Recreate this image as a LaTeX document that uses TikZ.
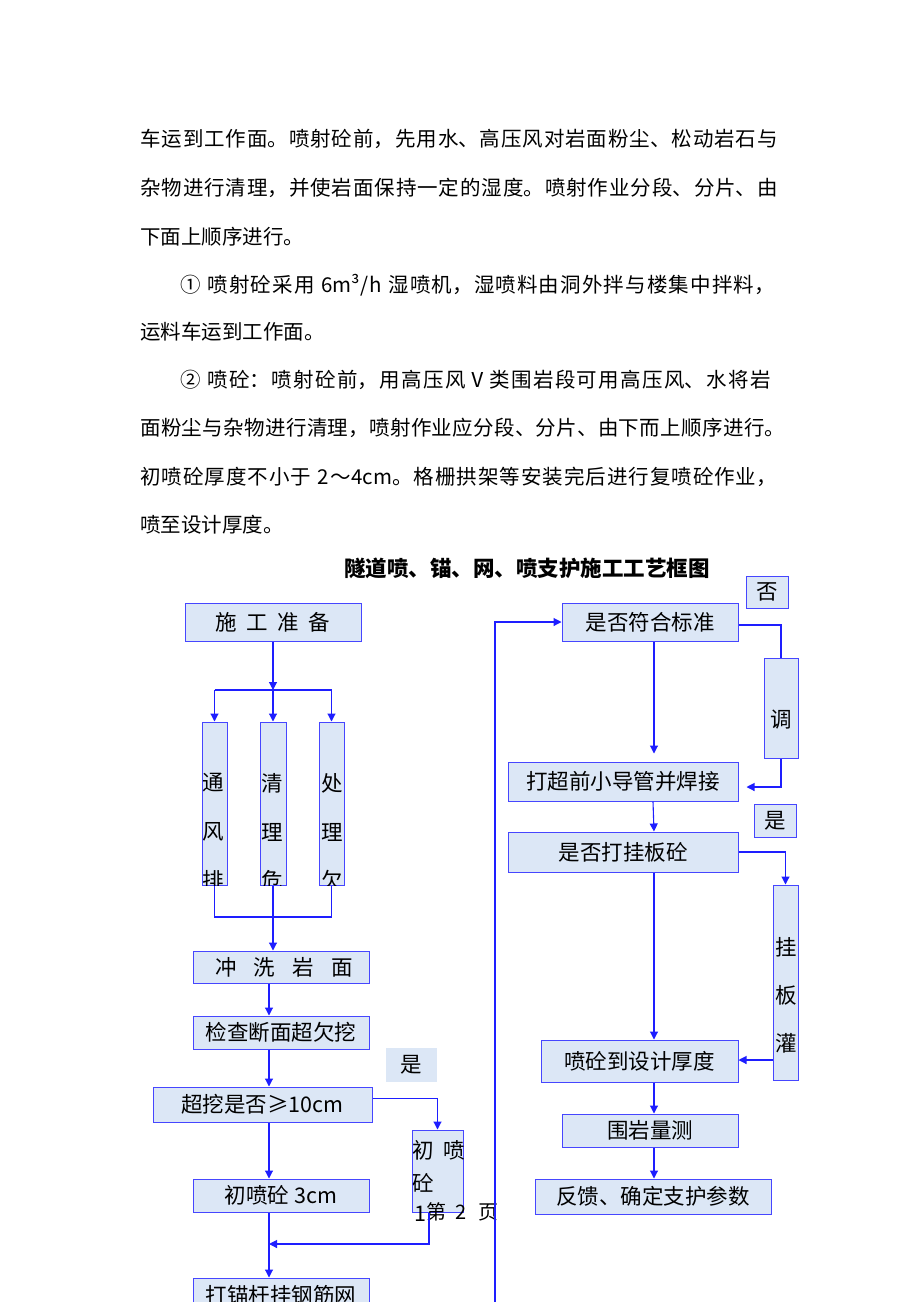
\documentclass[tikz,border=0pt]{standalone}
\usepackage{fontspec}
\setmainfont{Noto Sans CJK SC}
\usetikzlibrary{arrows.meta,calc}
\XeTeXlinebreaklocale "zh"
\XeTeXlinebreakskip=0pt plus 3pt
\definecolor{bxc}{RGB}{70,70,255}
\definecolor{flc}{RGB}{220,231,246}
\definecolor{lnc}{RGB}{30,30,255}
\newcommand\parafont{\fontsize{20.5}{24}\selectfont}
\newcommand\boxfont{\fontsize{21.5}{24}\selectfont}
\begin{document}
\begin{tikzpicture}[x=1pt,y=-1pt,
  fbox/.style={draw=bxc,fill=flc,line width=1pt,inner sep=0pt,font=\boxfont,text=black},
  lbl/.style={fill=flc,inner sep=0pt,font=\boxfont},
  vch/.style={inner sep=0pt,font=\boxfont},
  para/.style={anchor=west,inner sep=0pt,font=\parafont},
  full/.style={para,text width=650pt},
  fullin/.style={para,text width=610pt},
  conn/.style={draw=lnc,line width=1.1pt},
  flow/.style={conn,-{Triangle[length=8pt,width=8pt]}}]
\useasboundingbox (0,0) rectangle (920,1302);
\fill[white] (0,0) rectangle (920,1302);

% ---- paragraph text ----
\node[full] (t1) at (140,139) {\noindent\parfillskip=0pt 车运到工作面。喷射砼前，先用水、高压风对岩面粉尘、松动岩石与\par};
\node[full] (t2) at (140,188) {\noindent\parfillskip=0pt 杂物进行清理，并使岩面保持一定的湿度。喷射作业分段、分片、由\par};
\node[para] (t3) at (140,237) {下面上顺序进行。};
\node[fullin] (t4) at (180,285) {\noindent\parfillskip=0pt ① 喷射砼采用 6m³/h 湿喷机，湿喷料由洞外拌与楼集中拌料，\par};
\node[para] (t5) at (140,332) {运料车运到工作面。};
\node[fullin] (t6) at (180,380) {\noindent\parfillskip=0pt ② 喷砼：喷射砼前，用高压风Ⅴ类围岩段可用高压风、水将岩\par};
\node[full] (t7) at (140,428) {\noindent\parfillskip=0pt 面粉尘与杂物进行清理，喷射作业应分段、分片、由下而上顺序进行。\par};
\node[full] (t8) at (140,477) {\noindent\parfillskip=0pt 初喷砼厚度不小于 2～4cm。格栅拱架等安装完后进行复喷砼作业，\par};
\node[para] (t9) at (140,525) {喷至设计厚度。};

\node[font=\fontsize{21.5}{24}\selectfont\bfseries,inner sep=0pt] (title) at (527,568) {隧道喷、锚、网、喷支护施工工艺框图};

% ---- left column ----
\coordinate (lc) at (269,0);
\node[fbox,minimum width=176pt,minimum height=38pt] (prep) at (273,622) {施\hspace{0.45em}工\hspace{0.45em}准\hspace{0.45em}备};
\node[fbox,minimum width=25pt,minimum height=163pt] (tf) at (214.5,803.5) {};
\node[fbox,minimum width=26pt,minimum height=163pt] (ql) at (273,803.5) {};
\node[fbox,minimum width=25pt,minimum height=163pt] (cq) at (331.5,803.5) {};
\begin{scope}
\clip (200,722) rectangle (350,885);
\node[vch] (tf1) at (213,783) {通};
\node[vch] (tf2) at (213,832) {风};
\node[vch] (tf3) at (213,880) {排};
\node[vch] (ql1) at (272,783) {清};
\node[vch] (ql2) at (272,832) {理};
\node[vch] (ql3) at (272,880) {危};
\node[vch] (cq1) at (332,783) {处};
\node[vch] (cq2) at (332,832) {理};
\node[vch] (cq3) at (332,880) {欠};
\end{scope}
\coordinate (split) at (273,690);
\coordinate (merge) at (273,917);
\draw[flow] (prep.south) -- (split);
\draw[conn] (tf.north |- split) -- (cq.north |- split);
\draw[flow] (tf.north |- split) -- (tf.north);
\draw[flow] (split) -- (ql.north);
\draw[flow] (cq.north |- split) -- (cq.north);

\node[fbox,minimum width=176pt,minimum height=32pt] (wash) at (281,967) {\hspace{6pt}冲\hspace{0.8em}洗\hspace{0.8em}岩\hspace{0.8em}面};
\draw[conn] (tf.south) -- (tf.south |- merge) -- (cq.south |- merge) -- (cq.south);
\draw[flow] (ql.south) -- (ql.south |- wash.north);

\node[fbox,minimum width=176pt,minimum height=33pt] (check) at (281,1032.5) {检查断面超欠挖};
\node[fbox,minimum width=219pt,minimum height=35pt] (over) at (262.5,1104.5) {超挖是否≥10cm};
\node[lbl,minimum width=51pt,minimum height=34pt] (yes1) at (411.5,1065) {是};
\node[fbox,minimum width=51pt,minimum height=82pt] (init) at (437.5,1171) {};
\begin{scope}
\clip (412,1130) rectangle (465,1212);
\node[vch] (in1) at (423,1150) {初};
\node[vch] (in2) at (454,1150) {喷};
\node[vch] (in3) at (423,1183) {砼};
\end{scope}
\begin{scope}
\clip (412,1200) rectangle (426,1220);
\node[vch,anchor=west] (in4) at (414,1214) {10cm};
\end{scope}
\node[fbox,minimum width=176pt,minimum height=33pt] (s3) at (281,1195.5) {初喷砼 3cm};
\node[fbox,minimum width=176pt,minimum height=34pt] (anc) at (281,1295) {打锚杆挂钢筋网};
\node[inner sep=0pt,font=\fontsize{20}{24}\selectfont,anchor=west] (page) at (426,1212) {第\hspace{0.45em}2\hspace{0.6em}页};

\coordinate (j) at (269,1244);
\coordinate (overout) at ([yshift=6pt]over.east);
\coordinate (initout) at ([xshift=-8.5pt]init.south);
\draw[flow] (wash.south -| lc) -- (check.north -| lc);
\draw[flow] (check.south -| lc) -- (over.north -| lc);
\draw[flow] (overout) -- (overout -| init.north) -- (init.north);
\draw[flow] (over.south -| lc) -- (s3.north -| lc);
\draw[flow] (s3.south -| lc) -- (anc.north -| lc);
\draw[flow] (initout) -- (initout |- j) -- (j);

% ---- right column ----
\coordinate (rc) at (654,0);
\coordinate (loopbot) at (495,1310);
\node[fbox,minimum width=176pt,minimum height=38pt] (std) at (650,622) {是否符合标准};
\node[fbox,minimum width=42pt,minimum height=32pt] (no) at (767,592) {否};
\node[fbox,minimum width=34pt,minimum height=100pt] (adj) at (781,708) {};
\node[vch] (adjt) at (781,720) {调};
\node[fbox,minimum width=230pt,minimum height=39pt] (pipe) at (623,781.5) {打超前小导管并焊接};
\node[fbox,minimum width=42pt,minimum height=33pt] (yes2) at (775,820.5) {是};
\node[fbox,minimum width=230pt,minimum height=40pt] (hang) at (623,852) {是否打挂板砼};
\node[fbox,minimum width=25pt,minimum height=195pt] (gb) at (785.5,982.5) {};
\node[vch] (gb1) at (786,947) {挂};
\node[vch] (gb2) at (786,995) {板};
\node[vch] (gb3) at (786,1043) {灌};
\node[fbox,minimum width=197pt,minimum height=42pt] (spray) at (639.5,1061) {喷砼到设计厚度};
\node[fbox,minimum width=176pt,minimum height=33pt] (meas) at (650,1130.5) {围岩量测};
\node[fbox,minimum width=236pt,minimum height=35pt] (fb) at (653,1196.5) {反馈、确定支护参数};

\coordinate (stdout) at ([yshift=-3pt]std.east);
\coordinate (pipein) at ([yshift=-5.5pt]pipe.east);
\coordinate (sprayin) at ([yshift=1pt]spray.east);
\draw[flow] (loopbot) -- (loopbot |- std.west) -- (std.west);
\draw[conn] (stdout) -- (stdout -| adj.north) -- (adj.north);
\draw[flow,shorten >=8pt] (adj.south) -- (adj.south |- pipein) -- (pipein);
\draw[flow,shorten >=8pt] (std.south -| rc) -- (pipe.north -| rc);
\draw[flow] ([xshift=30pt]pipe.south) -- ([xshift=31pt]hang.north);
\draw[flow] (hang.east) -- (hang.east -| gb.north) -- (gb.north);
\draw[flow] (hang.south -| rc) -- (spray.north -| rc);
\draw[flow] (gb.west |- sprayin) -- (sprayin);
\draw[flow] (spray.south -| rc) -- (meas.north -| rc);
\draw[flow] (meas.south -| rc) -- (fb.north -| rc);
\end{tikzpicture}
\end{document}
